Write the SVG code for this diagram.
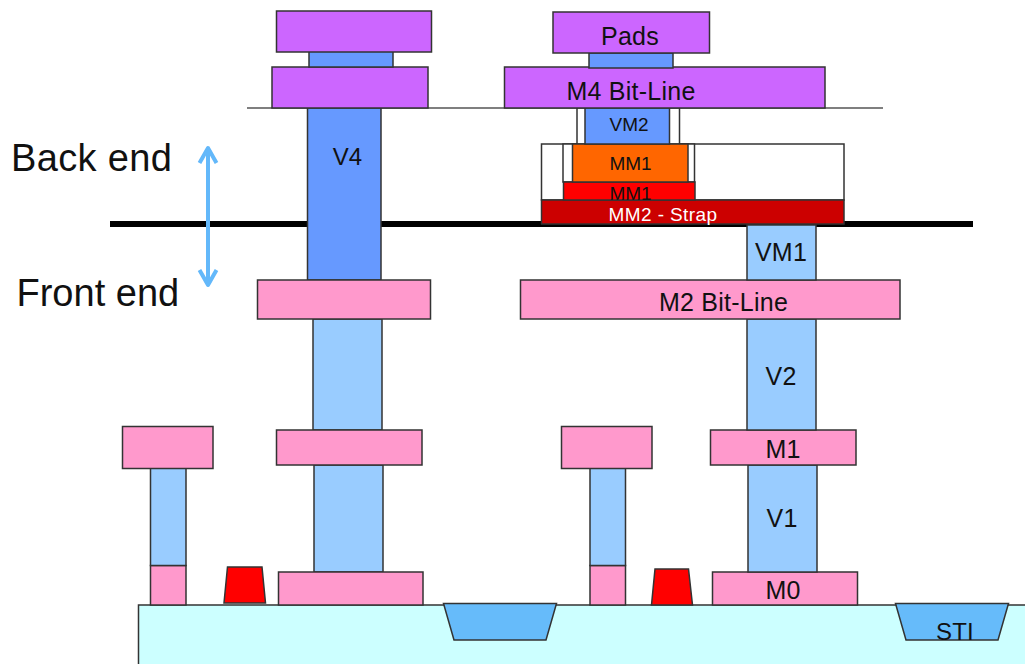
<svg xmlns="http://www.w3.org/2000/svg" width="1025" height="664" viewBox="0 0 1025 664">
<style>
rect,polygon{stroke:#333;stroke-width:1.5}
.pu{fill:#cc66ff}.bl{fill:#6699ff}.lb{fill:#99ccff}.pk{fill:#ff99cc}.rd{fill:#ff0000}.st{fill:#66bbfa}
.wh{fill:#fff;stroke:#333}
text{font-family:"Liberation Sans",Arial,sans-serif;fill:#111;text-anchor:middle}
.big{font-size:38px;text-anchor:start}
.m{font-size:25px;letter-spacing:.25px}.s{font-size:24px}.x{font-size:19px}
</style>
<g id="connectors">
<line x1="247" y1="108" x2="883" y2="108" stroke="#555" stroke-width="1.5"/>
<line x1="110" y1="224" x2="973" y2="224" stroke="#000" stroke-width="6"/>
</g>
<g id="substrate"><rect x="138.5" y="605" width="900" height="70" fill="#ccffff"/></g>
<g id="sti-left"><polygon class="st" points="443.5,603.5 556.5,603.5 546,640 454,640"/></g>
<g id="sti-right"><polygon class="st" points="895.5,603.5 1008.5,603.5 998,640 906,640"/><text class="m" x="955" y="640" style="font-size:24px">STI</text></g>
<g id="gate-left"><polygon class="rd" points="227.5,567 262,567 265.5,603 224,603"/></g>
<g id="gate-right"><polygon class="rd" points="655,569 688.5,569 692.5,605 651.5,605"/></g>
<g id="left-contact"><rect class="pk" x="150.5" y="565.5" width="35.5" height="39.5"/><rect class="lb" x="150.5" y="468" width="35.5" height="97.5"/><rect class="pk" x="122.5" y="426.5" width="90.5" height="42"/></g>
<g id="mid-contact"><rect class="pk" x="590" y="565.5" width="35.5" height="39.5"/><rect class="lb" x="590" y="468" width="35.5" height="97.5"/><rect class="pk" x="561.5" y="426.5" width="90.5" height="42"/></g>
<g id="left-stack">
<rect class="lb" x="314" y="465" width="69" height="107"/>
<rect class="lb" x="313" y="319" width="69" height="111"/>
<rect class="pk" x="278.5" y="572" width="144.5" height="33"/>
<rect class="pk" x="276.5" y="430" width="145.5" height="35"/>
<rect class="bl" x="307.5" y="108" width="73.5" height="172"/>
<text class="s" x="347.500" y="165">V4</text>
<rect class="pk" x="257.5" y="280" width="173" height="39"/>
<rect class="pu" x="272" y="67" width="156" height="41"/>
<rect class="bl" x="309" y="50" width="84" height="17"/>
<rect class="pu" x="276.5" y="11" width="155" height="41"/>
</g>
<g id="m0"><rect class="pk" x="712.5" y="572" width="145" height="33"/><text class="m" x="783" y="599">M0</text></g>
<g id="v1"><rect class="lb" x="748" y="465" width="69" height="107"/><text class="m" x="782" y="527">V1</text></g>
<g id="m1"><rect class="pk" x="710.5" y="430" width="145.5" height="35"/><text class="m" x="783" y="458">M1</text></g>
<g id="v2"><rect class="lb" x="747" y="319" width="69" height="111"/><text class="m" x="781" y="385">V2</text></g>
<g id="m2"><rect class="pk" x="520.5" y="280" width="379.5" height="39"/><text class="m" x="723.5" y="311">M2 Bit-Line</text></g>
<g id="vm1"><rect class="lb" x="747" y="225" width="69" height="55"/><text class="m" x="781" y="261">VM1</text></g>
<g id="white-boxes">
<rect class="wh" x="541.5" y="144" width="302.5" height="56"/>
<rect class="wh" x="563" y="144" width="131.5" height="38"/>
<rect class="wh" x="577" y="108" width="102.5" height="36"/>
</g>
<g id="mm2"><rect x="541.5" y="200" width="302.5" height="24" fill="#cc0000"/><text class="x" x="663" y="221" style="fill:#fff;letter-spacing:.4px">MM2 - Strap</text></g>
<g id="mm1-red"><rect class="rd" x="563.5" y="182" width="131.5" height="18"/><text class="x" x="630.5" y="199.500">MM1</text></g>
<g id="mm1-orange"><rect x="572.5" y="144" width="115.5" height="38" fill="#ff6600"/><text class="x" x="630.5" y="170">MM1</text></g>
<g id="vm2"><rect class="bl" x="585" y="108" width="84.5" height="36"/><text class="x" x="629" y="131">VM2</text></g>
<g id="m4"><rect class="pu" x="504.5" y="67" width="320.5" height="41"/><text class="m" x="631" y="100">M4 Bit-Line</text></g>
<g id="pad-via"><rect class="bl" x="589" y="53" width="84" height="15"/></g>
<g id="pads"><rect class="pu" x="553" y="12" width="156.5" height="41"/><text class="m" x="630" y="45">Pads</text></g>
<g id="labels"><text class="big" x="11" y="171" style="letter-spacing:.35px">Back end</text><text class="big" x="16.500" y="306">Front end</text></g>
<g id="arrow" fill="none" stroke="#63b8fa" stroke-width="4" stroke-linejoin="round">
<path d="M208 148V284M199.500 163L208 148L216.500 163M199.500 270L208 285L216.500 270"/>
</g>
</svg>
